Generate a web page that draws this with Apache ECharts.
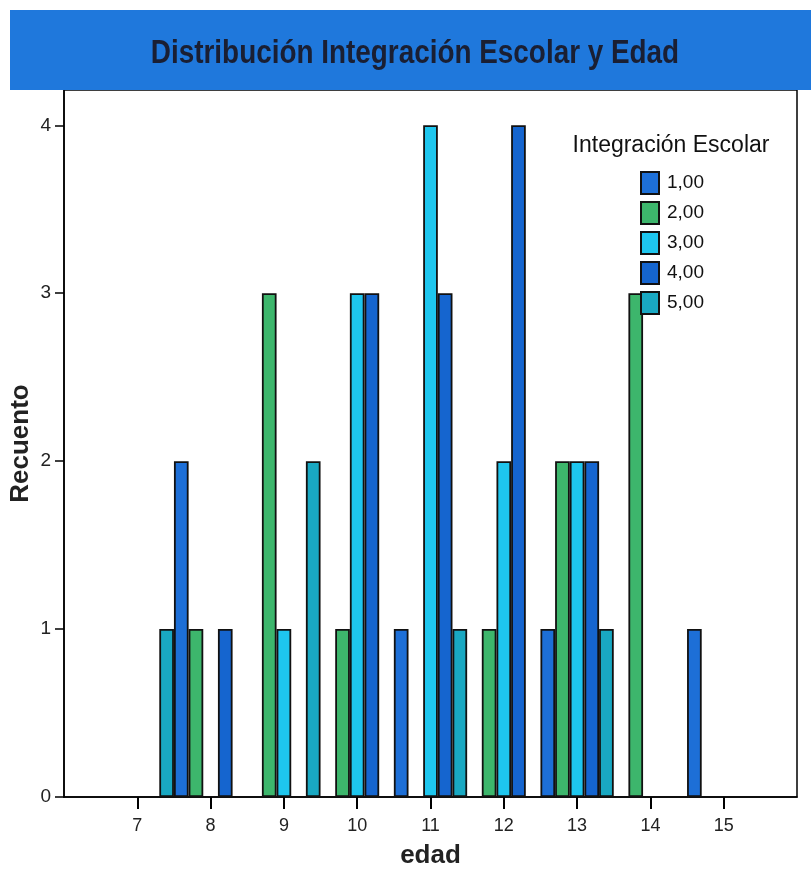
<!DOCTYPE html>
<html>
<head>
<meta charset="utf-8">
<script src="https://cdn.jsdelivr.net/npm/echarts@6/dist/echarts.min.js"></script>
<style>
html,body{margin:0;padding:0;background:#fff;}
#chart{width:811px;height:871px;}
</style>
</head>
<body>
<div id="chart"></div>
<script>
// Data
const edades = ['7','8','9','10','11','12','13','14','15'];
const tickLabels = ['7','8','9','10','11','12','13','14','15'];
const yTicks = [0,1,2,3,4];
const serieNames = ['1,00','2,00','3,00','4,00','5,00'];
const s100 = [0,2,0,0,1,0,1,0,1];
const s200 = [0,1,3,1,0,1,2,3,0];
const s300 = [0,0,1,3,4,2,2,0,0];
const s400 = [0,1,0,3,3,4,2,0,0];
const s500 = [1,0,2,0,1,0,1,0,0];
const seriesValues = [s100, s200, s300, s400, s500];
const colors = ['#1d6fd7','#3db66c','#1ec6ee','#1565cf','#19a8c2'];

// axis runs from 6 to 16 (one empty slot at each end)
const axisCats = ['6'].concat(edades, ['16']);
const pad = vals => ['-'].concat(vals.map(v => v === 0 ? '-' : v), ['-']);

const chart = echarts.init(document.getElementById('chart'));
const font = '"Liberation Sans", Arial, sans-serif';

chart.setOption({
  animation: false,
  backgroundColor: '#fff',
  grid: {left: 64, right: 14, top: 90, bottom: 74, show: true, borderColor: '#000', borderWidth: 1.5,
    containLabel: false, outerBoundsMode: 'none'},
  legend: {
    orient: 'vertical', left: 640, top: 171, padding: 0,
    itemWidth: 18, itemHeight: 22, itemGap: 6,
    icon: 'rect',
    data: serieNames,
    textStyle: {fontFamily: font, fontSize: 19, color: '#111', padding: [0,0,0,3]}
  },
  xAxis: {
    type: 'category', data: axisCats, boundaryGap: false,
    name: 'edad', nameLocation: 'middle', nameGap: 46,
    nameTextStyle: {fontFamily: font, fontWeight: 'bold', fontSize: 26, color: '#222'},
    axisLine: {show: true, lineStyle: {color: '#000', width: 1.5}},
    axisTick: {show: true, length: 12, lineStyle: {color: '#000', width: 2},
      interval: (i, v) => tickLabels.indexOf(v) >= 0},
    axisLabel: {fontFamily: font, fontSize: 18, color: '#222', margin: 20,
      interval: (i, v) => tickLabels.indexOf(v) >= 0},
    splitLine: {show: false}
  },
  yAxis: {
    type: 'value', min: 0, max: 4.21,
    name: 'Recuento', nameLocation: 'middle', nameGap: 30, nameRotate: 90, nameMoveOverlap: false,
    nameTextStyle: {fontFamily: font, fontWeight: 'bold', fontSize: 26, color: '#222'},
    axisLine: {show: true, lineStyle: {color: '#000', width: 1.5}},
    axisTick: {show: true, length: 9, lineStyle: {color: '#000', width: 1.5}, customValues: yTicks},
    axisLabel: {fontFamily: font, fontSize: 19, color: '#222', margin: 13, customValues: yTicks},
    splitLine: {show: false}
  },
  series: seriesValues.map((vals, k) => ({
    type: 'bar', name: serieNames[k], data: pad(vals),
    barGap: '0%', barCategoryGap: '0%',
    itemStyle: {color: colors[k], borderColor: '#111', borderWidth: 1.8}
  })),
  graphic: [
    {type: 'rect', shape: {x: 10, y: 10, width: 801, height: 80}, style: {fill: '#1f78dc'}, z: 100},
    {type: 'text', x: 415, y: 54, z: 101, scaleX: 0.82,
      style: {text: 'Distribución Integración Escolar y Edad', fill: '#1a1f33',
      font: 'bold 34px ' + font, textAlign: 'center', textVerticalAlign: 'middle'}},
    {type: 'text', x: 671, y: 146, z: 101, style: {text: 'Integración Escolar', fill: '#111',
      font: '23px ' + font, textAlign: 'center', textVerticalAlign: 'middle'}}
  ]
});
</script>
</body>
</html>
